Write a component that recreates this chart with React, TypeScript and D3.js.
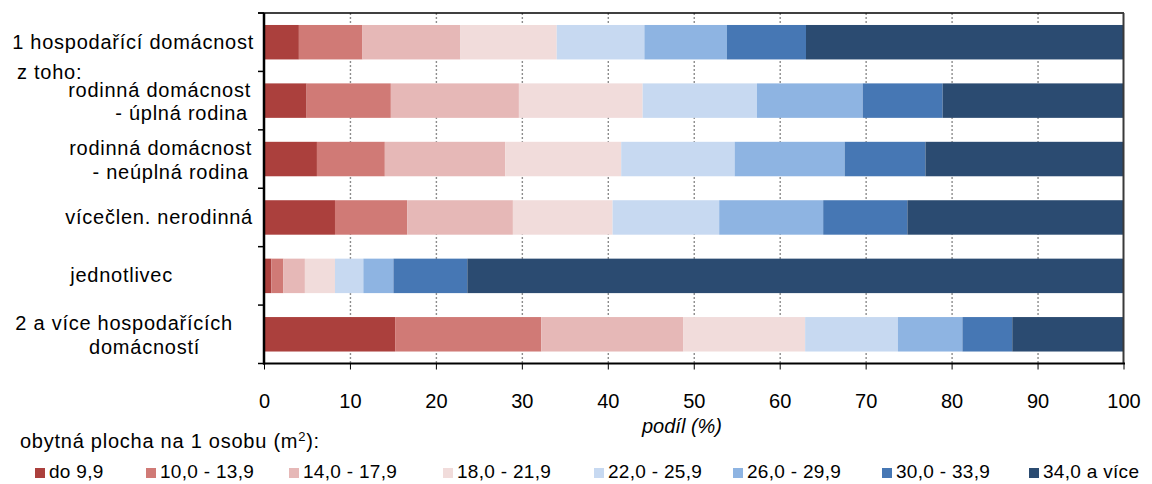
import React from "react";
import * as d3 from "d3";

// ---- data ----
const categories = [
  "1 hospodařící domácnost",
  "rodinná domácnost|- úplná rodina",
  "rodinná domácnost|- neúplná rodina",
  "vícečlen. nerodinná",
  "jednotlivec",
  "2 a více hospodařících|domácností",
];
const subHeading = "z toho:";
const seriesNames = [
  "do 9,9",
  "10,0 - 13,9",
  "14,0 - 17,9",
  "18,0 - 21,9",
  "22,0 - 25,9",
  "26,0 - 29,9",
  "30,0 - 33,9",
  "34,0 a více",
];
const sDo9 = [4.0, 4.9, 6.1, 8.2, 0.8, 15.2];
const s10to13 = [7.4, 9.8, 7.9, 8.4, 1.4, 17.0];
const s14to17 = [11.4, 14.9, 14.0, 12.3, 2.5, 16.5];
const s18to21 = [11.2, 14.4, 13.5, 11.6, 3.5, 14.2];
const s22to25 = [10.2, 13.3, 13.2, 12.4, 3.3, 10.8];
const s26to29 = [9.6, 12.3, 12.8, 12.1, 3.5, 7.5];
const s30to33 = [9.2, 9.3, 9.4, 9.8, 8.6, 5.8];
const s34plus = [37.0, 21.1, 23.1, 25.2, 76.4, 13.0];
const seriesValues = [sDo9, s10to13, s14to17, s18to21, s22to25, s26to29, s30to33, s34plus];
const xTicks = [0, 10, 20, 30, 40, 50, 60, 70, 80, 90, 100];
const xTitle = "podíl (%)";
const legendTitle = "obytná plocha na 1 osobu (m";
const legendTitleSup = "2";
const legendTitleEnd = "):";

// ---- styles / layout ----
const colors = ["#AB403D", "#D07A76", "#E6B8B7", "#F1DCDB", "#C7D9F1", "#8EB4E2", "#4677B4", "#2B4B71"];
const W = 1152;
const H = 484;
const labelEnds = [[254], [251, 248], [252, 249], [253], [173], [233, 200]];
const legendSwatchX = [35, 146, 289, 443, 594, 733, 882, 1029];
const FONT = "'Liberation Sans', Arial, sans-serif";

export default function App() {
  const x = d3.scaleLinear().domain([0, 100]).range([264.5, 1124]);
  const y = d3
    .scaleBand<string>()
    .domain(categories)
    .range([13, 363.5])
    .paddingInner(0.41)
    .paddingOuter(0.205);

  const rows = categories.map((c, i) => {
    const o: Record<string, any> = { cat: c };
    seriesNames.forEach((s, k) => (o[s] = seriesValues[k][i]));
    return o;
  });
  const stacked = d3.stack<Record<string, any>>().keys(seriesNames)(rows);

  const [r0, r1] = y.range();
  const boundaries = d3.range(categories.length + 1).map((i) => r0 + i * y.step());
  const bw = y.bandwidth();

  return (
    <svg
      width={W}
      height={H}
      style={{ position: "absolute", left: 0, top: 0, display: "block", background: "#fff" }}
      fontFamily={FONT}
    >
      {/* gridlines */}
      {xTicks
        .filter((t) => t > 0 && t < 100)
        .map((t) => (
          <line
            key={"g" + t}
            x1={x(t)}
            x2={x(t)}
            y1={r0}
            y2={r1}
            stroke="#8c8c8c"
            strokeWidth={1.4}
            strokeDasharray="2 2"
          />
        ))}

      {/* bars */}
      {stacked.map((layer, k) => (
        <g key={layer.key} fill={colors[k]}>
          {layer.map((d, i) => (
            <rect
              key={i}
              x={x(d[0])}
              width={x(d[1]) - x(d[0])}
              y={y(categories[i])}
              height={bw}
            />
          ))}
        </g>
      ))}

      {/* frame */}
      <line x1={258} x2={1124} y1={r0} y2={r0} stroke="#000" strokeWidth={1.6} />
      <line x1={1123.5} x2={1123.5} y1={r0} y2={r1} stroke="#3a3a3a" strokeWidth={2} />
      <line x1={264} x2={264} y1={r0} y2={r1 + 1} stroke="#000" strokeWidth={2.5} />
      <line x1={263} x2={1125} y1={r1} y2={r1} stroke="#000" strokeWidth={2} />
      {boundaries.map((b, i) => (
        <line key={"yt" + i} x1={258} x2={264} y1={b} y2={b} stroke="#000" strokeWidth={1.5} />
      ))}
      {xTicks.map((t) => (
        <line key={"xt" + t} x1={x(t)} x2={x(t)} y1={r1} y2={r1 + 6} stroke="#000" strokeWidth={1} />
      ))}

      {/* x tick labels */}
      {xTicks.map((t) => (
        <text key={"xl" + t} x={x(t)} y={407.5} textAnchor="middle" fontSize={20} fill="#000">
          {t}
        </text>
      ))}
      <text x={682} y={433} textAnchor="middle" fontSize={20} fontStyle="italic" fill="#000">
        {xTitle}
      </text>

      {/* category labels */}
      {categories.map((c, i) => {
        const lines = c.split("|");
        const cy = (y(c) as number) + bw / 2;
        return lines.map((ln, j) => {
          const by = lines.length === 1 ? cy + 6.5 : cy + (j === 0 ? -4 : 19.5);
          return (
            <text
              key={c + j}
              x={labelEnds[i][j]}
              y={by}
              textAnchor="end"
              fontSize={20}
              letterSpacing={0.75}
              fill="#000"
            >
              {ln}
            </text>
          );
        });
      })}
      <text x={17} y={79} fontSize={20} letterSpacing={0.75} fill="#000">
        {subHeading}
      </text>

      {/* legend */}
      <text x={20} y={448} fontSize={20} letterSpacing={0.75} fill="#000">
        {legendTitle}
        <tspan fontSize={13} dy={-7}>
          {legendTitleSup}
        </tspan>
        <tspan dy={7}>{legendTitleEnd}</tspan>
      </text>
      {seriesNames.map((s, k) => (
        <g key={"lg" + s}>
          <rect x={legendSwatchX[k]} y={468} width={10} height={10} fill={colors[k]} />
          <text x={legendSwatchX[k] + 14} y={478} fontSize={19} letterSpacing={0.3} fill="#000">
            {s}
          </text>
        </g>
      ))}
    </svg>
  );
}
